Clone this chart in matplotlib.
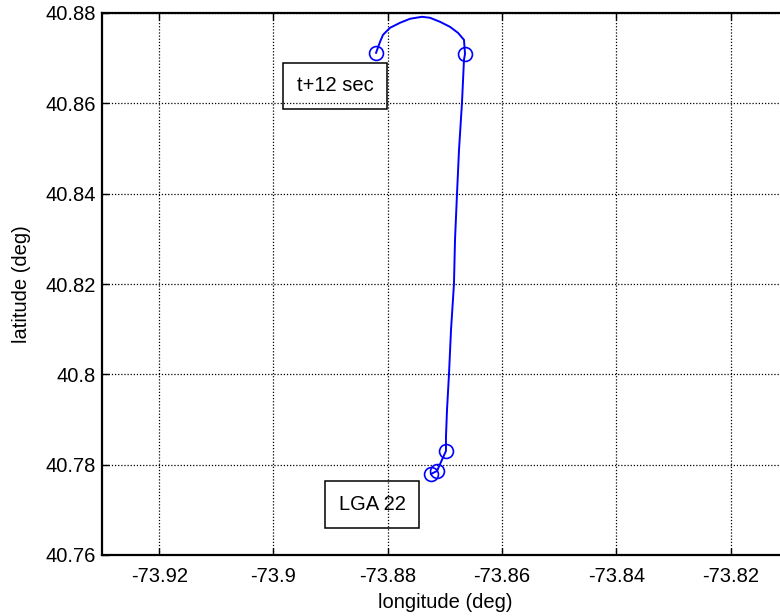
import matplotlib
matplotlib.use("Agg")
import matplotlib.pyplot as plt

plt.rcParams['font.family'] = ['Liberation Sans', 'DejaVu Sans']

# Ground track (longitude / latitude) from the runway to the left turn
lon = [-73.87245, -73.87140, -73.87070, -73.86983, -73.86983, -73.86965,
       -73.86930, -73.86895, -73.86843, -73.86825, -73.86790, -73.86755,
       -73.86703, -73.86668, -73.86650, -73.86668, -73.86773, -73.86913,
       -73.87087, -73.87262, -73.87402, -73.87612, -73.87787, -73.87962,
       -73.88084, -73.88136, -73.88206]
lat = [40.77794, 40.77860, 40.78060, 40.78303, 40.78614, 40.79212,
       40.80009, 40.80983, 40.82002, 40.82977, 40.83996, 40.84970,
       40.86011, 40.86963, 40.87096, 40.87406, 40.87561, 40.87694,
       40.87805, 40.87894, 40.87916, 40.87872, 40.87783, 40.87672,
       40.87517, 40.87362, 40.87119]

# Indices of the marked fixes along the track
marked = [0, 1, 3, 14, 26]

x_ticks = [-73.92, -73.90, -73.88, -73.86, -73.84, -73.82]
x_tick_labels = ['-73.92', '-73.9', '-73.88', '-73.86', '-73.84', '-73.82']
y_ticks = [40.76, 40.78, 40.80, 40.82, 40.84, 40.86, 40.88]
y_tick_labels = ['40.76', '40.78', '40.8', '40.82', '40.84', '40.86', '40.88']

notes = ['t+12 sec', 'LGA 22']
note_lon = [-73.88923, -73.88276]
note_lat = [40.86388, 40.77118]

fig = plt.figure(figsize=(7.8, 6.16), dpi=100)
ax = fig.add_axes([102 / 780, 61 / 616, 686 / 780, 542 / 616])

ax.plot(lon, lat, color='#0000ff', lw=1.4)
ax.plot([lon[i] for i in marked], [lat[i] for i in marked], 'o',
        mfc='none', mec='#0000ff', ms=10, mew=1.2)

for t, x, y in zip(notes, note_lon, note_lat):
    ax.text(x, y, t, ha='center', va='center', fontsize=14.5,
            bbox=dict(boxstyle='square,pad=0.68', fc='none', ec='black', lw=1.1))

ax.set_xlim(-73.93, -73.81)
ax.set_ylim(40.76, 40.88)
ax.set_xticks(x_ticks)
ax.set_xticklabels(x_tick_labels)
ax.set_yticks(y_ticks)
ax.set_yticklabels(y_tick_labels)
ax.tick_params(direction='in', length=5, width=1, top=True, right=True,
               labelsize=14.5, color='black')
ax.tick_params(axis='x', pad=9)
ax.tick_params(axis='y', pad=4.5)
ax.grid(True, color='black', linestyle=(0, (1, 1.5)), lw=0.9)
for s in ax.spines.values():
    s.set_linewidth(1.6)
    s.set_color('black')

ax.set_xlabel('longitude (deg)', fontsize=14.5, labelpad=5)
ax.set_ylabel('latitude (deg)', fontsize=14.5, labelpad=10)

fig.savefig('out.png', dpi=100)
